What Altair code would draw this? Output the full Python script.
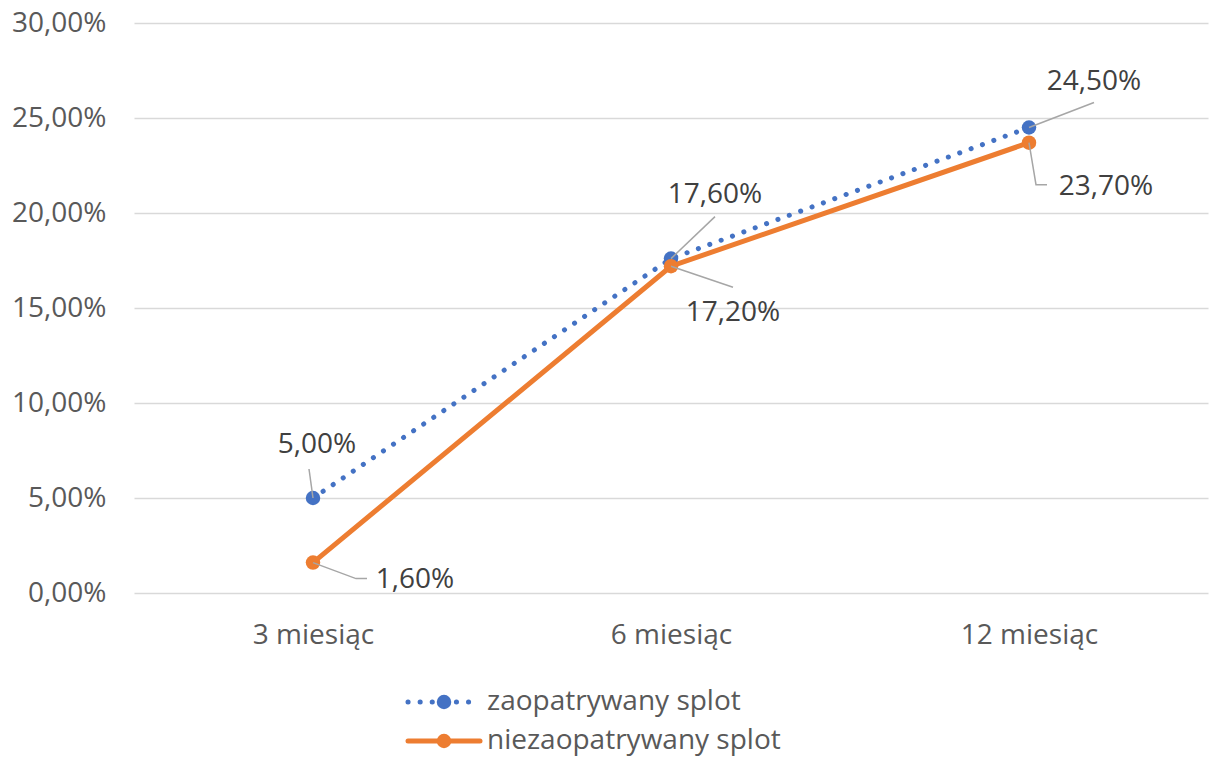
import json
import altair as alt
import pandas as pd

# ---- data -------------------------------------------------------------
categories = ["3 miesiąc", "6 miesiąc", "12 miesiąc"]
series_names = ["zaopatrywany splot", "niezaopatrywany splot"]
zaopatrywany = [5.0, 17.6, 24.5]
niezaopatrywany = [1.6, 17.2, 23.7]
series_values = [zaopatrywany, niezaopatrywany]
y_ticks = [0, 5, 10, 15, 20, 25, 30]

# ---- look -------------------------------------------------------------
FONT = "Open Sans"
FS = 28
BLUE = "#4472C4"
ORANGE = "#ED7D31"
colors = [BLUE, ORANGE]
W, H = 1074, 570
PX_X = W / 3.0          # pixels per category step
PX_Y = H / 30.0         # pixels per percentage point
MARKER = 210

# label placement relative to its point, in pixels (x right, y down):
# text centre, then the leader polyline starting at the point
label_layout = {
    ("zaopatrywany splot", 0): ((4, -53), [(0, 0), (-4, -29)]),
    ("niezaopatrywany splot", 0): ((102, 17), [(0, 0), (43, 16), (54, 16)]),
    ("zaopatrywany splot", 1): ((44, -64), [(0, 0), (44, -42)]),
    ("niezaopatrywany splot", 1): ((62, 47), [(0, 0), (62, 21)]),
    ("zaopatrywany splot", 2): ((65, -46), [(0, 0), (65, -25)]),
    ("niezaopatrywany splot", 2): ((77, 44), [(0, 0), (7, 42), (18, 42)]),
}


def pct(v):
    return f"{v:.2f}".replace(".", ",") + "%"


points = pd.DataFrame(
    [
        {"series": s, "idx": i, "value": v, "label": pct(v)}
        for s, vals in zip(series_names, series_values)
        for i, v in enumerate(vals)
    ]
)

# label anchor and leader segments expressed in data units
label_rows, leader_rows = [], []
for _, r in points.iterrows():
    (tx, ty), poly = label_layout[(r.series, r.idx)]
    label_rows.append(
        {"series": r.series, "x": r.idx + tx / PX_X, "y": r.value - ty / PX_Y, "label": r.label}
    )
    for k, (px, py) in enumerate(poly):
        leader_rows.append(
            {"lid": f"{r.series}-{r.idx}", "k": k,
             "x": r.idx + px / PX_X, "y": r.value - py / PX_Y}
        )
labels = pd.DataFrame(label_rows)
leaders = pd.DataFrame(leader_rows)

x_scale = alt.Scale(domain=[-0.5, 2.5], nice=False, zero=False)
y_scale = alt.Scale(domain=[0, 30], nice=False)

x_axis = alt.Axis(
    values=[0, 1, 2],
    labelExpr=f"{json.dumps(categories)}[datum.value]",
    title=None, grid=False, domain=False, ticks=False,
    labelFont=FONT, labelFontSize=FS, labelColor="#595959", labelPadding=28,
)
y_axis = alt.Axis(
    values=y_ticks,
    labelExpr="replace(format(datum.value, '.2f'), '.', ',') + '%'",
    title=None, grid=True, gridColor="#D9D9D9", gridWidth=1.5,
    domain=False, ticks=False,
    labelFont=FONT, labelFontSize=FS, labelColor="#595959", labelPadding=28,
)

base = alt.Chart(points)

layers = []
# gridlines / axes carrier
layers.append(
    alt.Chart(points).mark_point(opacity=0).encode(
        x=alt.X("idx:Q", scale=x_scale, axis=x_axis),
        y=alt.Y("value:Q", scale=y_scale, axis=y_axis),
    )
)

# series lines
layers.append(
    base.transform_filter(alt.datum.series == series_names[0])
    .mark_line(color=BLUE, strokeWidth=5, strokeDash=[0.1, 12], strokeCap="round")
    .encode(x="idx:Q", y="value:Q")
)
layers.append(
    base.transform_filter(alt.datum.series == series_names[1])
    .mark_line(color=ORANGE, strokeWidth=5, strokeCap="round")
    .encode(x="idx:Q", y="value:Q")
)
# markers
for s, c in zip(series_names, colors):
    layers.append(
        base.transform_filter(alt.datum.series == s)
        .mark_point(filled=True, color=c, size=MARKER, opacity=1)
        .encode(x="idx:Q", y="value:Q")
    )

# leader lines and value labels
layers.append(
    alt.Chart(leaders)
    .mark_line(color="#A6A6A6", strokeWidth=1.5)
    .encode(x="x:Q", y="y:Q", detail="lid:N", order="k:Q")
)
layers.append(
    alt.Chart(labels)
    .mark_text(font=FONT, fontSize=FS, color="#404040", align="center", baseline="middle")
    .encode(x="x:Q", y="y:Q", text="label:N")
)

# legend below the plot
legend_rows_y = [702 - 23, 741 - 23]
one = pd.DataFrame({"k": [0]})
for s, c, yy, dotted in zip(series_names, colors, legend_rows_y, [True, False]):
    rule_kwargs = dict(color=c, strokeWidth=5, strokeCap="round")
    if dotted:
        rule_kwargs["strokeDash"] = [0.1, 12]
    layers.append(
        alt.Chart(one).mark_rule(**rule_kwargs).encode(
            x=alt.value(408 - 134), x2=alt.value(480 - 134), y=alt.value(yy)
        )
    )
    layers.append(
        alt.Chart(one).mark_point(filled=True, color=c, size=MARKER, opacity=1).encode(
            x=alt.value(444 - 134), y=alt.value(yy)
        )
    )
    layers.append(
        alt.Chart(one).mark_text(
            font=FONT, fontSize=FS, color="#595959", align="left", baseline="middle"
        ).encode(x=alt.value(487 - 134), y=alt.value(yy), text=alt.value(s))
    )

chart = (
    alt.layer(*layers)
    .properties(
        width=W,
        height=H,
        autosize=alt.AutoSizeParams(type="none"),
        padding={"left": 134, "top": 23, "right": 1, "bottom": 167},
    )
    .configure(background="white", view=alt.ViewConfig(stroke=None))
)

chart.save("out.html", embed_options={"renderer": "svg", "actions": False})
